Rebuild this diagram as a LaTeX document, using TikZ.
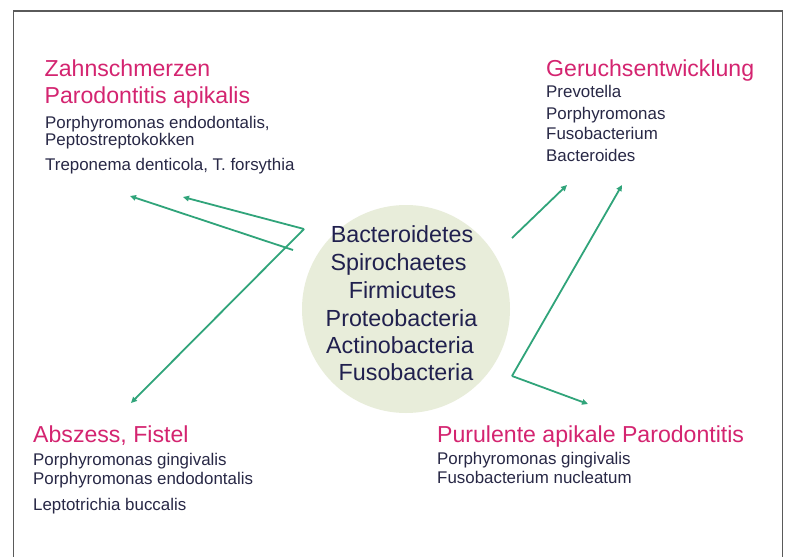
\documentclass[tikz,border=0pt]{standalone}
\usepackage{fontspec}
\setmainfont{Liberation Sans}
\usetikzlibrary{arrows.meta}
\definecolor{headpink}{RGB}{212,36,112}
\definecolor{bodytxt}{RGB}{40,40,70}
\definecolor{circtxt}{RGB}{32,32,78}
\definecolor{arrgreen}{RGB}{48,164,122}
\definecolor{circfill}{RGB}{232,237,218}
\definecolor{framegray}{RGB}{90,90,90}
\tikzset{
  head/.style={anchor=base west,inner sep=0pt,text=headpink,font=\fontsize{23.1}{26}\selectfont},
  body/.style={anchor=base west,inner sep=0pt,text=bodytxt,font=\fontsize{16.9}{19}\selectfont},
  phylum/.style={anchor=base,inner sep=0pt,text=circtxt,font=\fontsize{23.3}{26}\selectfont},
  arr/.style={draw=arrgreen,line width=1.8pt,-{Triangle[length=6pt,width=5.5pt]}},
}
\begin{document}
\begin{tikzpicture}[x=1pt,y=-1pt]
\useasboundingbox (0,0) rectangle (791,556);
\fill[white] (0,0) rectangle (791,556);
\draw[framegray,line width=1.6pt] (13.5,558) -- (13.5,11) -- (782.5,11) -- (782.5,558);
% central circle
\node[circle,fill=circfill,minimum size=208pt,inner sep=0pt] (hub) at (406,309) {};
\node[phylum] (p1) at (402,242.7) {Bacteroidetes};
\node[phylum] (p2) at (398.5,270.7) {Spirochaetes};
\node[phylum] (p3) at (402.5,298.3) {Firmicutes};
\node[phylum] (p4) at (401.5,326) {Proteobacteria};
\node[phylum] (p5) at (400,353.3) {Actinobacteria};
\node[phylum] (p6) at (406,380.7) {Fusobacteria};
% top left
\node[head] (tl1) at (44.5,76.7) {Zahnschmerzen};
\node[head] (tl2) at (44.5,103.3) {Parodontitis apikalis};
\node[body] (tl3) at (45,128.3) {Porphyromonas endodontalis,};
\node[body] (tl4) at (45,146) {Peptostreptokokken};
\node[body] (tl5) at (45,170) {Treponema denticola, T. forsythia};
% top right
\node[head] (tr1) at (546,77) {Geruchsentwicklung};
\node[body] (tr2) at (546,98) {Prevotella};
\node[body] (tr3) at (546,119.5) {Porphyromonas};
\node[body] (tr4) at (546,140) {Fusobacterium};
\node[body] (tr5) at (546,161.5) {Bacteroides};
% bottom left
\node[head] (bl1) at (33,442) {Abszess, Fistel};
\node[body] (bl2) at (33,465) {Porphyromonas gingivalis};
\node[body] (bl3) at (33,484) {Porphyromonas endodontalis};
\node[body] (bl4) at (33,510.7) {Leptotrichia buccalis};
% bottom right
\node[head] (br1) at (437,442) {Purulente apikale Parodontitis};
\node[body] (br2) at (437,464) {Porphyromonas gingivalis};
\node[body] (br3) at (437,483) {Fusobacterium nucleatum};
% arrow coordinates
\coordinate (a1s) at (293,250);
\coordinate (a1e) at (130,196);
\coordinate (lc) at (304,229);
\coordinate (a2e) at (183,197);
\coordinate (a3e) at (131,403);
\coordinate (a4s) at (512,238);
\coordinate (a4e) at (567,185);
\coordinate (rc) at (512,376);
\coordinate (a5e) at (622,185);
\coordinate (a6e) at (588,404);
\draw[arr] (a1s) -- (a1e);
\draw[arr] (lc) -- (a2e);
\draw[arr] (lc) -- (a3e);
\draw[arr] (a4s) -- (a4e);
\draw[arr] (rc) -- (a5e);
\draw[arr] (rc) -- (a6e);
\end{tikzpicture}
\end{document}
